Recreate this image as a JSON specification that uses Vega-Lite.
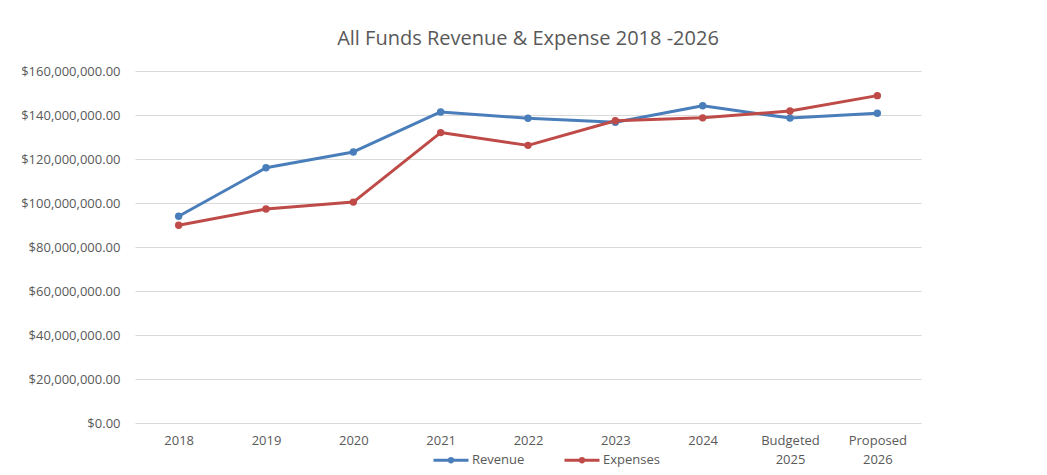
{
  "$schema": "https://vega.github.io/schema/vega-lite/v6.json",
  "width": 786,
  "height": 352,
  "padding": {"left": 20, "top": 29, "right": 10, "bottom": 0},
  "background": "white",
  "title": {
    "text": "All Funds Revenue & Expense 2018 -2026",
    "font": "Open Sans",
    "fontSize": 20,
    "fontWeight": "normal",
    "color": "#595959",
    "anchor": "middle",
    "offset": 16
  },
  "data": {
    "values": [
      {"period": "2018", "series": "Revenue", "amount": 94000000},
      {"period": "2019", "series": "Revenue", "amount": 116000000},
      {"period": "2020", "series": "Revenue", "amount": 123200000},
      {"period": "2021", "series": "Revenue", "amount": 141400000},
      {"period": "2022", "series": "Revenue", "amount": 138500000},
      {"period": "2023", "series": "Revenue", "amount": 136700000},
      {"period": "2024", "series": "Revenue", "amount": 144200000},
      {"period": "Budgeted 2025", "series": "Revenue", "amount": 138600000},
      {"period": "Proposed 2026", "series": "Revenue", "amount": 140800000},
      {"period": "2018", "series": "Expenses", "amount": 89900000},
      {"period": "2019", "series": "Expenses", "amount": 97300000},
      {"period": "2020", "series": "Expenses", "amount": 100400000},
      {"period": "2021", "series": "Expenses", "amount": 132000000},
      {"period": "2022", "series": "Expenses", "amount": 126200000},
      {"period": "2023", "series": "Expenses", "amount": 137400000},
      {"period": "2024", "series": "Expenses", "amount": 138700000},
      {"period": "Budgeted 2025", "series": "Expenses", "amount": 141800000},
      {"period": "Proposed 2026", "series": "Expenses", "amount": 148800000}
    ]
  },
  "encoding": {
    "x": {
      "field": "period",
      "type": "ordinal",
      "sort": null,
      "scale": {"type": "point", "padding": 0.5},
      "axis": {
        "title": null,
        "labelAngle": 0,
        "domain": false,
        "ticks": false,
        "grid": false,
        "labelPadding": 11,
        "labelExpr": "split(datum.label, ' ')",
        "labelLineHeight": 19
      }
    },
    "y": {
      "field": "amount",
      "type": "quantitative",
      "scale": {"domain": [0, 160000000], "nice": false},
      "axis": {
        "title": null,
        "values": [0, 20000000, 40000000, 60000000, 80000000, 100000000, 120000000, 140000000, 160000000],
        "format": "$,.2f",
        "domain": false,
        "ticks": false,
        "labelPadding": 15
      }
    },
    "color": {
      "field": "series",
      "type": "nominal",
      "scale": {"domain": ["Revenue", "Expenses"], "range": ["#4a7ebb", "#be4b48"]},
      "legend": {
        "title": null,
        "orient": "none",
        "direction": "horizontal",
        "legendX": 297,
        "legendY": 370,
        "symbolType": "M-1,0H1M0.1,0A0.1,0.1 0 1,1 -0.1,0A0.1,0.1 0 1,1 0.1,0Z",
        "symbolSize": 1225,
        "symbolStrokeWidth": 3,
        "labelOffset": 2,
        "columnPadding": 33,
        "labelFont": "Open Sans",
        "labelFontSize": 13,
        "labelColor": "#595959"
      }
    }
  },
  "layer": [
    {"mark": {"type": "line", "strokeWidth": 3, "strokeCap": "round", "strokeJoin": "round"}},
    {"mark": {"type": "point", "filled": true, "size": 55, "opacity": 1}}
  ],
  "config": {
    "view": {"stroke": null},
    "axis": {
      "labelFont": "Open Sans",
      "labelFontSize": 13,
      "labelColor": "#595959",
      "gridColor": "#d9d9d9",
      "gridWidth": 1
    }
  }
}
